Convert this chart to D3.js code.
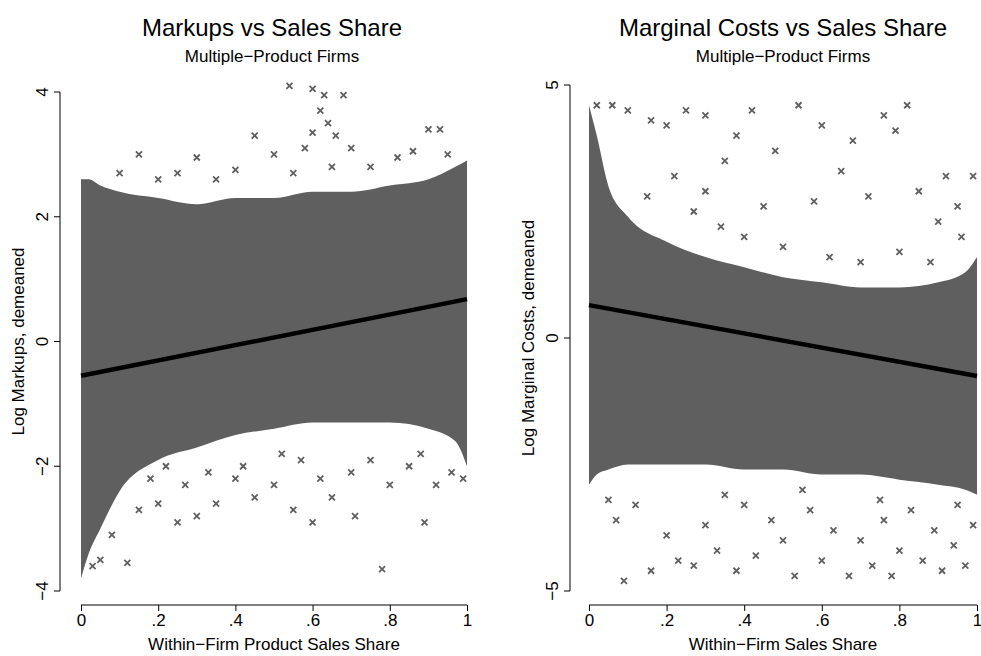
<!DOCTYPE html>
<html><head><meta charset="utf-8">
<script src="https://cdn.jsdelivr.net/npm/d3@7"></script>
<style>body{margin:0;background:#fff}text{font-family:"Liberation Sans",Arial,sans-serif}</style>
</head><body><svg width="981" height="656"></svg>
<script>
// dense-cloud envelope [share, upper, lower]
const leftBand = [[0,2.6,-3.8],[0.02,2.6,-3.4],[0.05,2.5,-3.0],[0.1,2.4,-2.4],[0.2,2.3,-1.9],[0.3,2.2,-1.7],
  [0.4,2.3,-1.5],[0.5,2.3,-1.4],[0.6,2.4,-1.3],[0.7,2.4,-1.3],[0.8,2.5,-1.3],[0.9,2.6,-1.4],[0.97,2.8,-1.6],[1,2.9,-2.0]];
const rightBand = [[0,4.6,-2.9],[0.02,4.0,-2.7],[0.05,3.0,-2.6],[0.1,2.4,-2.5],[0.2,1.9,-2.5],[0.3,1.6,-2.5],
  [0.4,1.4,-2.6],[0.5,1.2,-2.6],[0.6,1.1,-2.7],[0.7,1.0,-2.7],[0.8,1.0,-2.8],[0.9,1.1,-2.9],[0.97,1.3,-3.0],[1,1.6,-3.1]];
// scattered points outside the dense cloud
const leftPts = [[0.54,4.1],[0.6,4.05],[0.63,3.95],[0.68,3.95],[0.62,3.7],[0.64,3.5],[0.6,3.35],[0.66,3.3],[0.45,3.3],
  [0.58,3.1],[0.9,3.4],[0.93,3.4],[0.7,3.1],[0.15,3.0],[0.3,2.95],[0.5,3.0],[0.82,2.95],[0.86,3.05],
  [0.03,-3.6],[0.05,-3.5],[0.12,-3.55],[0.08,-3.1],[0.15,-2.7],[0.2,-2.6],[0.25,-2.9],[0.3,-2.8],[0.35,-2.6],
  [0.4,-2.2],[0.45,-2.5],[0.5,-2.3],[0.55,-2.7],[0.6,-2.9],[0.65,-2.5],[0.7,-2.1],[0.71,-2.8],[0.78,-3.65],
  [0.8,-2.3],[0.85,-2.0],[0.89,-2.9],[0.92,-2.3],[0.96,-2.1],[0.99,-2.2],[0.33,-2.1],[0.27,-2.3],[0.18,-2.2],
  [0.57,-1.9],[0.75,-1.9],[0.62,-2.2],[0.42,-2.0],[0.52,-1.8],[0.88,-1.8],[0.22,-2.0],
  [0.1,2.7],[0.2,2.6],[0.25,2.7],[0.35,2.6],[0.4,2.75],[0.55,2.7],[0.65,2.8],[0.75,2.8],[0.95,3.0]];
const rightPts = [[0.02,4.6],[0.06,4.6],[0.1,4.5],[0.16,4.3],[0.2,4.2],[0.25,4.5],[0.3,4.4],[0.38,4.0],[0.42,4.5],
  [0.54,4.6],[0.6,4.2],[0.68,3.9],[0.76,4.4],[0.79,4.1],[0.82,4.6],[0.92,3.2],[0.99,3.2],[0.48,3.7],[0.35,3.5],
  [0.65,3.3],[0.72,2.8],[0.85,2.9],[0.9,2.3],[0.95,2.6],[0.58,2.7],[0.45,2.6],[0.3,2.9],[0.22,3.2],[0.27,2.5],
  [0.4,2.0],[0.5,1.8],[0.62,1.6],[0.7,1.5],[0.8,1.7],[0.88,1.5],[0.96,2.0],[0.34,2.2],[0.15,2.8],
  [0.05,-3.2],[0.07,-3.6],[0.09,-4.8],[0.12,-3.3],[0.16,-4.6],[0.2,-3.9],[0.23,-4.4],[0.27,-4.5],[0.3,-3.7],
  [0.33,-4.2],[0.38,-4.6],[0.4,-3.3],[0.43,-4.3],[0.47,-3.6],[0.5,-4.0],[0.53,-4.7],[0.57,-3.4],[0.6,-4.4],
  [0.63,-3.8],[0.67,-4.7],[0.7,-4.0],[0.73,-4.5],[0.76,-3.6],[0.78,-4.7],[0.8,-4.2],[0.83,-3.4],[0.86,-4.4],
  [0.89,-3.8],[0.91,-4.6],[0.94,-4.1],[0.97,-4.5],[0.99,-3.7],[0.55,-3.0],[0.35,-3.1],[0.75,-3.2],[0.95,-3.3]];
const leftFit = [[0,-0.55],[1,0.68]];
const rightFit = [[0,0.65],[1,-0.75]];
const xTicks = [0,0.2,0.4,0.6,0.8,1];
const xTickLabels = ["0",".2",".4",".6",".8","1"];

const svg = d3.select("svg");
const grey = "#5f5f5f";

function panel(o) {
  const x = d3.scaleLinear().domain([0,1]).range(o.xr);
  const y = d3.scaleLinear().domain(o.yd).range(o.yr);
  const g = svg.append("g");
  const clip = "clip" + o.id;
  svg.append("clipPath").attr("id", clip).append("rect")
    .attr("x", o.xr[0]-12).attr("y", 60).attr("width", 981).attr("height", 545);
  const plot = g.append("g").attr("clip-path", `url(#${clip})`);
  plot.append("path").datum(o.band)
    .attr("d", d3.area().x(d => x(d[0])).y0(d => y(d[2])).y1(d => y(d[1])).curve(d3.curveMonotoneX))
    .attr("fill", grey);
  const s = 3;
  plot.selectAll(".pt").data(o.pts).join("path")
    .attr("d", d => `M${x(d[0])-s},${y(d[1])-s}L${x(d[0])+s},${y(d[1])+s}M${x(d[0])-s},${y(d[1])+s}L${x(d[0])+s},${y(d[1])-s}`)
    .attr("stroke", grey).attr("stroke-width", 1.8);
  plot.append("path").datum(o.fit)
    .attr("d", d3.line().x(d => x(d[0])).y(d => y(d[1])))
    .attr("stroke", "#000").attr("stroke-width", 4.5);

  const xa = g.append("g").attr("transform", `translate(0,${o.xAxisY})`)
    .call(d3.axisBottom(x).tickValues(xTicks).tickFormat((d,i) => xTickLabels[i]).tickSize(6).tickSizeOuter(0));
  xa.select(".domain").attr("d", `M${x(0)},0H${x(1)}`);
  xa.selectAll("text").attr("font-size", 17).attr("fill", "#000");
  const ya = g.append("g").attr("transform", `translate(${o.yAxisX},0)`)
    .call(d3.axisLeft(y).tickValues(o.yTicks).tickFormat(d => d < 0 ? "\u2212" + (-d) : d).tickSize(6).tickSizeOuter(0));
  ya.select(".domain").attr("d", `M0,${y(o.yTicks[0])}V${y(o.yTicks[o.yTicks.length-1])}`);
  ya.selectAll(".tick").attr("transform", null);
  ya.selectAll(".tick line").attr("transform", d => `translate(0,${y(d)})`);
  ya.selectAll("text").attr("font-size", 17).attr("fill", "#000").attr("text-anchor", "middle")
    .attr("x", 0).attr("y", 0).attr("dy", 0)
    .attr("transform", d => `translate(-12,${y(d)}) rotate(-90)`);

  g.append("text").attr("x", o.cx).attr("y", 36).attr("text-anchor", "middle").attr("font-size", 24).text(o.title);
  g.append("text").attr("x", o.cx).attr("y", 62).attr("text-anchor", "middle").attr("font-size", 17).text("Multiple\u2212Product Firms");
  g.append("text").attr("x", (x(0)+x(1))/2).attr("y", 650).attr("text-anchor", "middle").attr("font-size", 17).text(o.xTitle);
  g.append("text").attr("transform", `translate(${o.yTitleX},${(o.yr[0]+o.yr[1])/2}) rotate(-90)`)
    .attr("text-anchor", "middle").attr("font-size", 17).text(o.yTitle);
}

panel({id:"L", xr:[81,467], yd:[-4,4], yr:[591,92], yTicks:[-4,-2,0,2,4], band:leftBand, pts:leftPts, fit:leftFit,
  xAxisY:605, yAxisX:60, cx:272, title:"Markups vs Sales Share", xTitle:"Within\u2212Firm Product Sales Share",
  yTitle:"Log Markups, demeaned", yTitleX:24});
panel({id:"R", xr:[589,977], yd:[-5,5], yr:[591,85], yTicks:[-5,0,5], band:rightBand, pts:rightPts, fit:rightFit,
  xAxisY:605, yAxisX:570, cx:783, title:"Marginal Costs vs Sales Share", xTitle:"Within\u2212Firm Sales Share",
  yTitle:"Log Marginal Costs, demeaned", yTitleX:534});
</script></body></html>
